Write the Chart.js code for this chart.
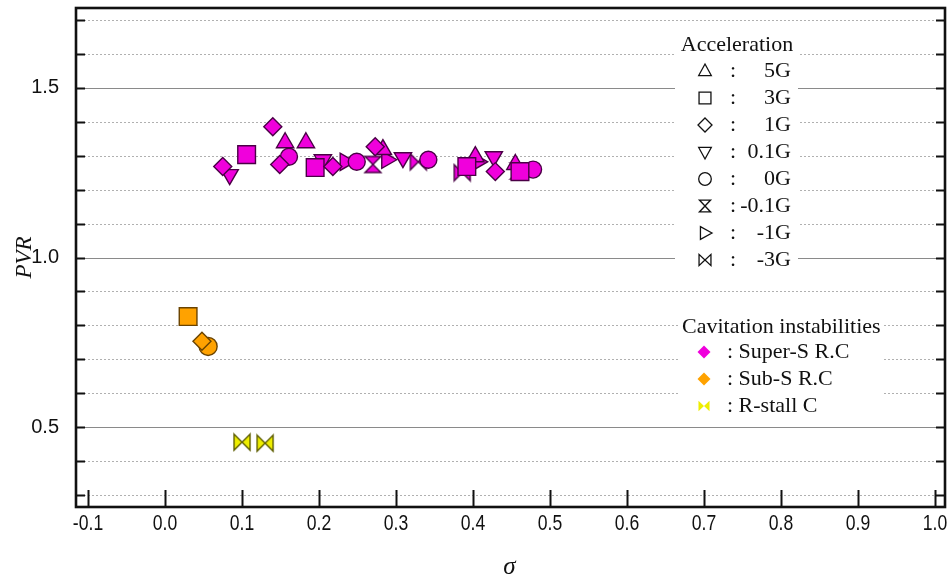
<!DOCTYPE html>
<html>
<head>
<meta charset="utf-8">
<script src="https://cdn.jsdelivr.net/npm/chart.js@4.4.1/dist/chart.umd.min.js"></script>
<style>
  html, body { margin: 0; padding: 0; background: #fff; }
  #wrap { width: 950px; height: 584px; }
</style>
</head>
<body>
<div id="wrap"><canvas id="c" width="950" height="584"></canvas></div>
<script>
// ---- data : [sigma, PVR] ----
// Super-S R.C (magenta)
const sup5G   = [[0.156,1.338],[0.183,1.338],[0.283,1.318],[0.403,1.297],[0.455,1.274]];
const sup3G   = [[0.106,1.303],[0.195,1.265],[0.392,1.268],[0.461,1.253]];
const sup1G   = [[0.075,1.268],[0.140,1.385],[0.149,1.274],[0.218,1.268],[0.273,1.326],[0.429,1.253]];
const sup01G  = [[0.084,1.244],[0.205,1.288],[0.309,1.294],[0.427,1.297]];
const sup0G   = [[0.161,1.297],[0.249,1.282],[0.342,1.288],[0.478,1.259]];
const supM01G = [[0.270,1.274],[0.459,1.255]];
const supM1G  = [[0.234,1.282],[0.288,1.288],[0.406,1.282]];
const supM3G  = [[0.329,1.282],[0.386,1.250]];
// Sub-S R.C (orange)
const sub3G = [[0.030,0.826]];
const sub1G = [[0.048,0.753]];
const sub0G = [[0.056,0.738]];
// R-stall C (yellow)
const rstM3G = [[0.100,0.456],[0.130,0.453]];

const xTicks = [-0.1,0.0,0.1,0.2,0.3,0.4,0.5,0.6,0.7,0.8,0.9,1.0];
const yTicks = [0.3,0.4,0.5,0.6,0.7,0.8,0.9,1.0,1.1,1.2,1.3,1.4,1.5,1.6,1.7];
const yMajor = [0.5,1.0,1.5];

const accelLabels = ['5G','3G','1G','0.1G','0G','-0.1G','-1G','-3G'];
const accelShapes = ['tri','square','diamond','triDown','circle','hourglass','triRight','bowtie'];
const caviLabels = [': Super-S R.C', ': Sub-S R.C', ': R-stall C'];

const MAG = '#f000dc', MAG_B = '#4a0046';
const ORA = '#ffa200', ORA_B = '#6a4300';
const YEL = '#eeee00', YEL_B = '#5e5e00';

const SERIF = '"Liberation Serif", "Times New Roman", serif';
const SANS = '"Liberation Sans", Arial, sans-serif';

// hourglass / bowtie markers drawn on small canvases
function makeMarker(kind, fill, stroke) {
  const s = 20;
  const cv = document.createElement('canvas');
  cv.width = s; cv.height = s;
  const g = cv.getContext('2d');
  const a = 2, b = s - 2, m = s / 2;
  g.beginPath();
  if (kind === 'hourglass') {
    g.moveTo(a, a); g.lineTo(b, a); g.lineTo(m, m); g.closePath();
    g.moveTo(m, m); g.lineTo(b, b); g.lineTo(a, b); g.closePath();
  } else {
    g.moveTo(a, a); g.lineTo(m, m); g.lineTo(a, b); g.closePath();
    g.moveTo(b, a); g.lineTo(m, m); g.lineTo(b, b); g.closePath();
  }
  g.fillStyle = fill; g.fill();
  g.lineWidth = 1.4; g.strokeStyle = stroke; g.lineJoin = 'miter'; g.stroke();
  return cv;
}

function pts(arr) { return arr.map(p => ({x: p[0], y: p[1]})); }

function ds(arr, style, fill, border, radius, rot) {
  return {
    data: pts(arr),
    pointStyle: style,
    pointRotation: rot || 0,
    pointRadius: radius,
    pointBackgroundColor: fill,
    pointBorderColor: border,
    pointBorderWidth: 1.4,
    showLine: false
  };
}

const datasets = [
  ds(sup1G, 'rectRot', MAG, MAG_B, 9),
  ds(sup3G, 'rect', MAG, MAG_B, 12.5),
  ds(sup5G, 'triangle', MAG, MAG_B, 10),
  ds(sup01G, 'triangle', MAG, MAG_B, 10, 180),
  ds(sup0G, 'circle', MAG, MAG_B, 8.5),
  ds(supM1G, 'triangle', MAG, MAG_B, 10, 90),
  ds(supM01G, makeMarker('hourglass', MAG, MAG_B), MAG, MAG_B, 9),
  ds(supM3G, makeMarker('bowtie', MAG, MAG_B), MAG, MAG_B, 9),
  ds(sub3G, 'rect', ORA, ORA_B, 12.5),
  ds(sub1G, 'rectRot', ORA, ORA_B, 9),
  ds(sub0G, 'circle', ORA, ORA_B, 9),
  ds(rstM3G, makeMarker('bowtie', YEL, YEL_B), YEL, YEL_B, 9)
];

function isMajor(v) { return yMajor.some(m => Math.abs(m - v) < 1e-6); }

// open legend symbols
function drawSymbol(ctx, kind, x, y, r) {
  ctx.beginPath();
  if (kind === 'tri') {
    ctx.moveTo(x, y - r); ctx.lineTo(x + r * 0.9, y + r * 0.65); ctx.lineTo(x - r * 0.9, y + r * 0.65); ctx.closePath();
  } else if (kind === 'triDown') {
    ctx.moveTo(x, y + r); ctx.lineTo(x + r * 0.9, y - r * 0.65); ctx.lineTo(x - r * 0.9, y - r * 0.65); ctx.closePath();
  } else if (kind === 'triRight') {
    ctx.moveTo(x + r, y); ctx.lineTo(x - r * 0.65, y - r * 0.9); ctx.lineTo(x - r * 0.65, y + r * 0.9); ctx.closePath();
  } else if (kind === 'square') {
    ctx.rect(x - r * 0.85, y - r * 0.85, r * 1.7, r * 1.7);
  } else if (kind === 'diamond') {
    ctx.moveTo(x, y - r); ctx.lineTo(x + r, y); ctx.lineTo(x, y + r); ctx.lineTo(x - r, y); ctx.closePath();
  } else if (kind === 'circle') {
    ctx.arc(x, y, r * 0.9, 0, Math.PI * 2);
  } else if (kind === 'hourglass') {
    ctx.moveTo(x - r * 0.8, y - r * 0.85); ctx.lineTo(x + r * 0.8, y - r * 0.85); ctx.lineTo(x, y); ctx.closePath();
    ctx.moveTo(x, y); ctx.lineTo(x + r * 0.8, y + r * 0.85); ctx.lineTo(x - r * 0.8, y + r * 0.85); ctx.closePath();
  } else if (kind === 'bowtie') {
    ctx.moveTo(x - r * 0.85, y - r * 0.8); ctx.lineTo(x, y); ctx.lineTo(x - r * 0.85, y + r * 0.8); ctx.closePath();
    ctx.moveTo(x + r * 0.85, y - r * 0.8); ctx.lineTo(x, y); ctx.lineTo(x + r * 0.85, y + r * 0.8); ctx.closePath();
  }
}

const framePlugin = {
  id: 'frame',
  beforeDatasetsDraw(chart) {
    const ctx = chart.ctx, a = chart.chartArea;
    const ys = chart.scales.y;
    ctx.save();
    // horizontal grid lines
    yTicks.forEach(v => {
      const y = Math.round(ys.getPixelForValue(v)) + 0.5;
      ctx.beginPath();
      if (isMajor(v)) { ctx.setLineDash([]); ctx.strokeStyle = '#8a8a8a'; ctx.lineWidth = 1.2; }
      else { ctx.setLineDash([2, 2]); ctx.strokeStyle = '#b0b0b0'; ctx.lineWidth = 1; }
      ctx.moveTo(a.left, y); ctx.lineTo(a.right, y); ctx.stroke();
    });
    ctx.setLineDash([]);

    // legend boxes (white, cover grid)
    ctx.fillStyle = '#fff';
    ctx.fillRect(675, 32, 123, 242);
    ctx.fillRect(680, 311, 202, 108);

    ctx.fillStyle = '#111';
    ctx.textBaseline = 'middle';
    ctx.font = '22px ' + SERIF;
    ctx.textAlign = 'center';
    ctx.fillText('Acceleration', 737, 45);
    accelLabels.forEach((lab, i) => {
      const y = 71 + i * 27;
      ctx.strokeStyle = '#111'; ctx.lineWidth = 1.3;
      drawSymbol(ctx, accelShapes[i], 705, y, 7);
      ctx.stroke();
      ctx.textAlign = 'center';
      ctx.fillText(':', 733, y);
      ctx.textAlign = 'right';
      ctx.fillText(lab, 791, y);
    });

    ctx.textAlign = 'left';
    ctx.fillText('Cavitation instabilities', 682, 327);
    const cols = [MAG, ORA, YEL];
    caviLabels.forEach((lab, i) => {
      const y = 352 + i * 27;
      ctx.fillStyle = cols[i];
      drawSymbol(ctx, i === 2 ? 'bowtie' : 'diamond', 704, y, 6.5);
      ctx.fill();
      ctx.fillStyle = '#111';
      ctx.fillText(lab, 727, y);
    });
    ctx.restore();
  },
  afterDatasetsDraw(chart) {
    const ctx = chart.ctx, a = chart.chartArea;
    const xs = chart.scales.x, ys = chart.scales.y;
    ctx.save();
    ctx.strokeStyle = '#111';
    ctx.lineWidth = 2;
    // y ticks, inside, both sides
    yTicks.forEach(v => {
      const y = Math.round(ys.getPixelForValue(v)) + 0.5;
      ctx.beginPath();
      ctx.moveTo(a.left, y); ctx.lineTo(a.left + 9, y);
      ctx.moveTo(a.right, y); ctx.lineTo(a.right - 9, y);
      ctx.stroke();
    });
    // x ticks, inside from the bottom
    xTicks.forEach(v => {
      const x = Math.round(xs.getPixelForValue(v)) + 0.5;
      ctx.beginPath();
      ctx.moveTo(x, a.bottom); ctx.lineTo(x, a.bottom - 17);
      ctx.stroke();
    });
    // frame
    ctx.lineWidth = 2.6;
    ctx.strokeRect(a.left, a.top, a.right - a.left, a.bottom - a.top);

    // tick labels
    ctx.fillStyle = '#111';
    ctx.textBaseline = 'middle';
    ctx.textAlign = 'right';
    ctx.font = '20px ' + SANS;
    yMajor.forEach(v => {
      ctx.fillText(v.toFixed(1), 59, ys.getPixelForValue(v));
    });
    ctx.textAlign = 'center';
    ctx.font = '22px ' + SANS;
    xTicks.forEach(v => {
      const x = xs.getPixelForValue(v);
      ctx.save();
      ctx.translate(x, 524);
      ctx.scale(0.8, 1);
      ctx.fillText(v.toFixed(1), 0, 0);
      ctx.restore();
    });

    // axis titles
    ctx.font = 'italic 25px ' + SERIF;
    ctx.fillText('\u03C3', (a.left + a.right) / 2 - 1, 567);
    ctx.translate(25, (a.top + a.bottom) / 2);
    ctx.rotate(-Math.PI / 2);
    ctx.font = 'italic 23px ' + SERIF;
    ctx.fillText('PVR', 0, 0);
    ctx.restore();
  }
};

new Chart(document.getElementById('c'), {
  type: 'scatter',
  data: { datasets: datasets },
  options: {
    responsive: false,
    animation: false,
    devicePixelRatio: 1,
    layout: { autoPadding: false, padding: { left: 76, right: 5, top: 8, bottom: 77 } },
    plugins: { legend: { display: false }, tooltip: { enabled: false } },
    scales: {
      x: { type: 'linear', display: false, min: -0.1156, max: 1.013 },
      y: { type: 'linear', display: false, min: 0.265, max: 1.735 }
    }
  },
  plugins: [framePlugin]
});
</script>
</body>
</html>
